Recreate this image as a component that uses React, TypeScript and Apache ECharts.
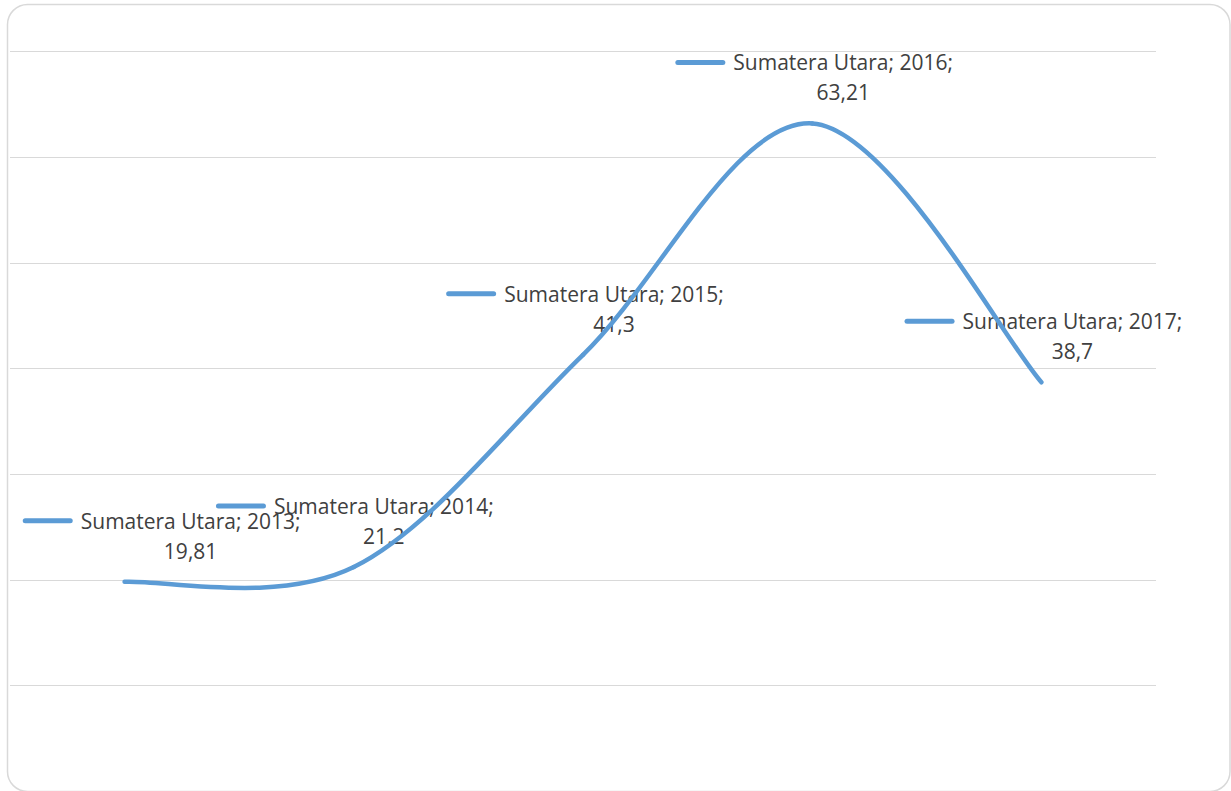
import React, { useEffect, useRef } from "react";
import * as echarts from "echarts";

const seriesName = "Sumatera Utara";
const categories = ["2013", "2014", "2015", "2016", "2017"];
const values = [19.81, 21.2, 41.3, 63.21, 38.7];
const labelOffsets = [
  [37, -46],
  [1, -46],
  [2, -46],
  [2, -46],
  [2, -46],
];
const yTicks = { min: 0, max: 70, interval: 10 };

const BLUE = "#5B9BD5";
const TEXT = "#404040";
const FONT = "'Open Sans', 'Noto Sans', sans-serif";

export default function App() {
  const ref = useRef<HTMLDivElement>(null);
  useEffect(() => {
    if (!ref.current) return;
    const chart = echarts.init(ref.current, undefined, { renderer: "svg" });
    const fmt = (v: number) => String(v).replace(".", ",");
    chart.setOption({
      animation: false,
      backgroundColor: "#ffffff",
      graphic: [
        {
          type: "rect",
          z: 0,
          silent: true,
          shape: { x: 7.5, y: 4.5, width: 1222.5, height: 787, r: 20 },
          style: { fill: "none", stroke: "#D9D9D9", lineWidth: 1.5 },
        },
      ],
      grid: { left: 10, top: 51.7, width: 1146, height: 740.8 },
      xAxis: {
        type: "category",
        data: categories,
        boundaryGap: true,
        axisLine: { show: false },
        axisTick: { show: false },
        axisLabel: { show: false },
        splitLine: { show: false },
      },
      yAxis: {
        type: "value",
        min: yTicks.min,
        max: yTicks.max,
        interval: yTicks.interval,
        axisLine: { show: false },
        axisTick: { show: false },
        axisLabel: { show: false },
        splitLine: { show: true, lineStyle: { color: "#D9D9D9", width: 1 } },
      },
      series: [
        {
          type: "line",
          name: seriesName + "-labels",
          z: 2,
          data: values.map((v, i) => ({
            value: v,
            label: { offset: labelOffsets[i] },
          })),
          symbol: "circle",
          symbolSize: 1,
          itemStyle: { color: "transparent" },
          lineStyle: { width: 0, opacity: 0 },
          silent: true,
          label: {
            show: true,
            position: "inside",
            align: "center",
            verticalAlign: "middle",
            color: TEXT,
            textBorderWidth: 0,
            textBorderColor: "transparent",
            fontFamily: FONT,
            fontSize: 21,
            lineHeight: 30,
            formatter: (p: any) =>
              "{k|}{t|" +
              seriesName +
              "; " +
              categories[p.dataIndex] +
              ";}\n{v|" +
              fmt(values[p.dataIndex]) +
              "}",
            rich: {
              k: {
                width: 50,
                height: 5,
                backgroundColor: BLUE,
                borderRadius: 2.5,
                lineHeight: 30,
              },
              t: {
                fontFamily: FONT,
                fontSize: 21,
                color: TEXT,
                lineHeight: 30,
                padding: [0, 0, 0, 8],
              },
              v: {
                fontFamily: FONT,
                fontSize: 21,
                color: TEXT,
                lineHeight: 30,
                padding: [0, 0, 0, 58],
              },
            },
          },
        },
        {
          type: "custom",
          name: seriesName,
          z: 3,
          silent: true,
          data: values.map((v, i) => [i, v]),
          encode: { x: 0, y: 1 },
          renderItem: (params: any, api: any) => {
            const i = params.dataIndex;
            if (i === 0) return null;
            const n = values.length;
            const pt = (k: number) => {
              const kk = Math.max(0, Math.min(n - 1, k));
              return api.coord([kk, values[kk]]);
            };
            const p0 = pt(i - 2);
            const p1 = pt(i - 1);
            const p2 = pt(i);
            const p3 = pt(i + 1);
            return {
              type: "bezierCurve",
              shape: {
                x1: p1[0],
                y1: p1[1],
                cpx1: p1[0] + (p2[0] - p0[0]) / 6,
                cpy1: p1[1] + (p2[1] - p0[1]) / 6,
                cpx2: p2[0] - (p3[0] - p1[0]) / 6,
                cpy2: p2[1] - (p3[1] - p1[1]) / 6,
                x2: p2[0],
                y2: p2[1],
              },
              style: {
                fill: null,
                stroke: BLUE,
                lineWidth: 4.5,
                lineCap: "round",
              },
            };
          },
        },
      ],
    });
    return () => chart.dispose();
  }, []);
  return (
    <div
      ref={ref}
      style={{ position: "absolute", left: 0, top: 0, width: 1231, height: 791 }}
    />
  );
}
